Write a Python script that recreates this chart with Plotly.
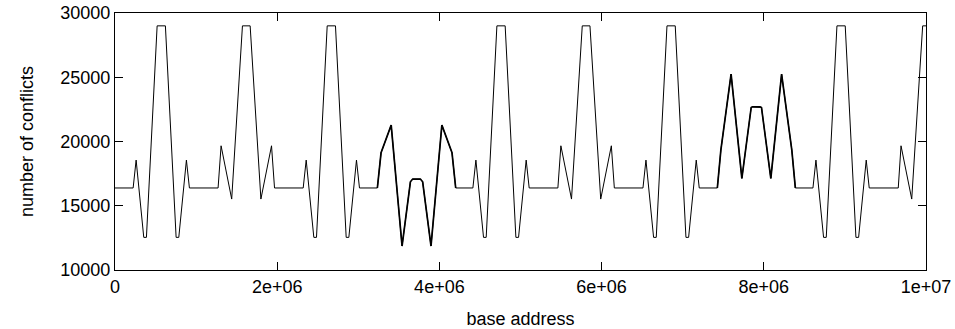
import plotly.graph_objects as go

# base address, number of conflicts
base_address = [
    0, 223500, 260500, 354500, 387500, 519500, 621500, 753500, 786500, 880500, 917500,
    1271000, 1308000, 1439000, 1571500, 1666500, 1799000, 1930000, 1967000,
    2320500, 2357500, 2451500, 2484500, 2616500, 2718500, 2850500, 2883500, 2977500, 3014500,
    3235000, 3280500, 3405500, 3539500, 3642500, 3670500, 3765500, 3793500, 3896500, 4030500, 4155500, 4201000,
    4413000, 4450000, 4544000, 4577000, 4709000, 4811000, 4943000, 4976000, 5070000, 5107000,
    5461000, 5498000, 5629000, 5761500, 5856500, 5989000, 6120000, 6157000,
    6510000, 6547000, 6641000, 6674000, 6806000, 6908000, 7040000, 7073000, 7167000, 7204000,
    7427000, 7470500, 7596500, 7729500, 7844500, 7860500, 7955500, 7971500, 8086500, 8219500, 8345500, 8389000,
    8606000, 8643000, 8737000, 8770000, 8902000, 9004000, 9136000, 9169000, 9263000, 9300000,
    9658000, 9692000, 9824000, 9959000, 10054000,
]
conflicts = [
    16384, 16384, 18553, 12540, 12540, 29000, 29000, 12540, 12540, 18553, 16384,
    16384, 19666, 15520, 29000, 29000, 15520, 19666, 16384,
    16384, 18553, 12540, 12540, 29000, 29000, 12540, 12540, 18553, 16384,
    16384, 19121, 21275, 11866, 16866, 17076, 17076, 16866, 11866, 21275, 19121, 16384,
    16384, 18553, 12540, 12540, 29000, 29000, 12540, 12540, 18553, 16384,
    16384, 19666, 15520, 29000, 29000, 15520, 19666, 16384,
    16384, 18553, 12540, 12540, 29000, 29000, 12540, 12540, 18553, 16384,
    16384, 19331, 25241, 17131, 22650, 22700, 22700, 22650, 17131, 25241, 19331, 16384,
    16384, 18553, 12540, 12540, 29000, 29000, 12540, 12540, 18553, 16384,
    16384, 19666, 15520, 29000, 29000,
]

x_tickvals = [0, 2e6, 4e6, 6e6, 8e6, 1e7]
x_ticktext = ["0", "2e+06", "4e+06", "6e+06", "8e+06", "1e+07"]
y_tickvals = [10000, 15000, 20000, 25000, 30000]
y_ticktext = ["10000", "15000", "20000", "25000", "30000"]

# noisy (denser) sections drawn slightly heavier
noisy = [(3235000, 4201000), (7427000, 8389000)]

fig = go.Figure()
fig.add_trace(go.Scatter(x=base_address, y=conflicts, mode="lines",
                         line=dict(color="black", width=1), showlegend=False,
                         hoverinfo="skip"))
for lo, hi in noisy:
    xs = [a for a in base_address if lo <= a <= hi]
    ys = [c for a, c in zip(base_address, conflicts) if lo <= a <= hi]
    fig.add_trace(go.Scatter(x=xs, y=ys, mode="lines",
                             line=dict(color="black", width=1.7), showlegend=False,
                             hoverinfo="skip"))

font = dict(family="Liberation Sans, Arial, sans-serif", size=18, color="black")
axis_common = dict(showline=True, linecolor="black", linewidth=1, mirror="ticks",
                   ticks="inside", ticklen=8, tickwidth=1, tickcolor="black",
                   showgrid=False, zeroline=False, tickfont=font, automargin=False)

fig.update_layout(
    width=955, height=329,
    margin=dict(l=115, r=29, t=13, b=59),
    paper_bgcolor="white", plot_bgcolor="white",
    font=font,
    xaxis=dict(range=[0, 1e7], tickvals=x_tickvals, ticktext=x_ticktext,
               title=dict(text="base address", font=font, standoff=16), **axis_common),
    yaxis=dict(range=[10000, 30000], tickvals=y_tickvals, ticktext=y_ticktext,
               title=dict(text="number of conflicts", font=font, standoff=22), **axis_common),
)

fig.write_html("out.html",
               config={"displayModeBar": False},
               post_script="document.body.style.margin='0';document.body.style.overflow='hidden';")
